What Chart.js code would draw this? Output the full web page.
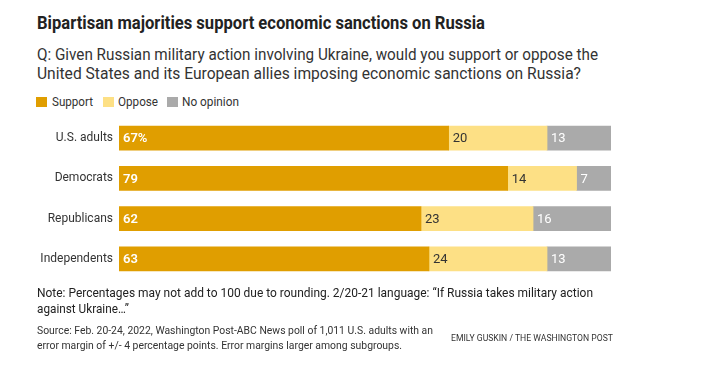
<!DOCTYPE html>
<html><head><meta charset="utf-8">
<script src="https://cdn.jsdelivr.net/npm/chart.js@4"></script>
<style>
html,body{margin:0;padding:0;background:#fff;}
body{width:710px;height:376px;position:relative;overflow:hidden;font-family:Roboto,"Liberation Sans",sans-serif;color:#333;}
.t{position:absolute;white-space:nowrap;transform-origin:0 0;}
#title{left:37px;top:13px;font-size:17.5px;font-weight:700;color:#222;}
.sub{left:37px;font-size:16px;color:#333;}
.leg{position:absolute;top:97px;height:10px;width:11px;}
.legt{top:94px;font-size:13px;color:#333;}
.note{left:37px;font-size:13px;color:#222;}
.src{left:37px;font-size:11.5px;color:#333;}
#by{left:451px;top:332px;font-size:9.5px;color:#333;}
#wrap{position:absolute;left:0;top:110px;width:710px;height:180px;}
</style></head>
<body>
<div class="t" id="title" data-w="448">Bipartisan majorities support economic sanctions on Russia</div>
<div class="t sub" style="top:45px" data-w="561">Q: Given Russian military action involving Ukraine, would you support or oppose the</div>
<div class="t sub" style="top:64px" data-w="544">United States and its European allies imposing economic sanctions on Russia?</div>
<div class="leg" style="left:36px;background:#E09E00"></div>
<div class="t legt" style="left:52px" data-w="41">Support</div>
<div class="leg" style="left:103px;background:#FDE085"></div>
<div class="t legt" style="left:118px" data-w="40">Oppose</div>
<div class="leg" style="left:167px;background:#AAAAAA"></div>
<div class="t legt" style="left:182px" data-w="57">No opinion</div>
<div id="wrap"><canvas id="c" width="710" height="180"></canvas></div>
<div class="t note" style="top:285px" data-w="556">Note: Percentages may not add to 100 due to rounding. 2/20-21 language: “If Russia takes military action</div>
<div class="t note" style="top:301px" data-w="92">against Ukraine…”</div>
<div class="t src" style="top:323px" data-w="396">Source: Feb. 20-24, 2022, Washington Post-ABC News poll of 1,011 U.S. adults with an</div>
<div class="t src" style="top:338px" data-w="365">error margin of +/- 4 percentage points. Error margins larger among subgroups.</div>
<div class="t" id="by" data-w="162">EMILY GUSKIN / THE WASHINGTON POST</div>
<script>
const categories = ["U.S. adults", "Democrats", "Republicans", "Independents"];
const support = [67, 79, 62, 63];
const oppose = [20, 14, 23, 24];
const noOpinion = [13, 7, 16, 13];
const seriesNames = ["Support", "Oppose", "No opinion"];

document.querySelectorAll('.t[data-w]').forEach(el => {
  const w = el.getBoundingClientRect().width;
  const target = +el.dataset.w;
  el.style.transform = 'scaleX(' + (target / w) + ')';
});

const totals = categories.map((_, i) => support[i] + oppose[i] + noOpinion[i]);
const norm = arr => arr.map((v, i) => v / totals[i] * 100);
const raw = [support, oppose, noOpinion];
const colors = ["#E09E00", "#FDE085", "#AAAAAA"];
const labelColors = ["#ffffff", "#333333", "#ffffff"];
const labelWeights = ["600", "400", "400"];

const labelPlugin = {
  id: 'vals',
  afterDatasetsDraw(chart) {
    const ctx = chart.ctx;
    ctx.save();
    ctx.textBaseline = 'middle';
    ctx.textAlign = 'left';
    chart.data.datasets.forEach((ds, di) => {
      const meta = chart.getDatasetMeta(di);
      meta.data.forEach((bar, i) => {
        let txt = String(raw[di][i]);
        if (di === 0 && i === 0) txt += '%';
        ctx.fillStyle = labelColors[di];
        ctx.font = labelWeights[di] + ' 13px Roboto, "Liberation Sans", sans-serif';
        ctx.fillText(txt, Math.min(bar.x, bar.base) + 4, bar.y + 1);
      });
    });
    ctx.restore();
  }
};

new Chart(document.getElementById('c'), {
  type: 'bar',
  data: {
    labels: categories,
    datasets: raw.map((arr, k) => ({
      label: seriesNames[k],
      data: norm(arr),
      backgroundColor: colors[k],
      borderWidth: 0,
      barThickness: 24
    }))
  },
  options: {
    indexAxis: 'y',
    responsive: false,
    animation: false,
    layout: { padding: { top: 8, bottom: 11, right: 99, left: 0 } },
    plugins: { legend: { display: false }, tooltip: { enabled: false } },
    scales: {
      x: { stacked: true, min: 0, max: 100, display: false },
      y: {
        stacked: true,
        grid: { display: false, drawTicks: false },
        border: { display: false },
        ticks: { color: '#333', padding: 6, font: { family: 'Roboto, "Liberation Sans", sans-serif', size: 12 } },
        afterFit(s) { s.width = 119; s.paddingTop = 0; s.paddingBottom = 0; }
      }
    }
  },
  plugins: [labelPlugin]
});
</script>
</body></html>
